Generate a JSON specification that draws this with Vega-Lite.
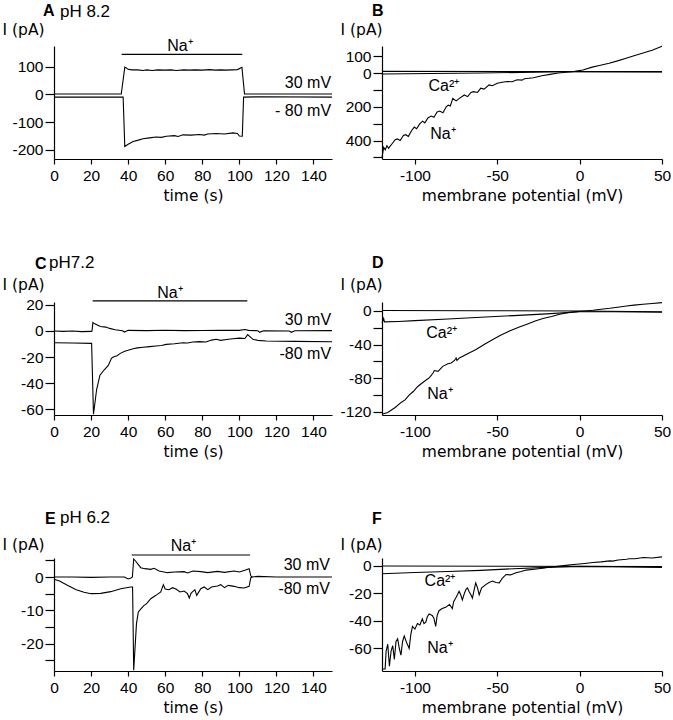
{
  "$schema": "https://vega.github.io/schema/vega-lite/v6.json",
  "background": "white",
  "padding": {"left": 2, "top": 2, "right": 0, "bottom": 0},
  "columns": 2,
  "align": "each",
  "bounds": "flush",
  "spacing": {"row": 143, "column": 50},
  "config": {
    "view": {"stroke": null},
    "axis": {"grid": false, "labelFlush": false, "domainColor": "black", "domainWidth": 1.2, "tickColor": "black", "tickWidth": 1.2, "labelColor": "black", "labelFont": "Liberation Sans", "labelFontSize": 15.5, "titleColor": "black", "titleFont": "DejaVu Sans", "titleFontSize": 15.5, "titleFontWeight": "normal"},
    "axisX": {"tickSize": 5, "labelPadding": 4, "titlePadding": 5, "labelExpr": "'' + datum.value"},
    "axisY": {"tickSize": 9, "labelPadding": 2, "titleAngle": 0, "titleAlign": "left", "titleBaseline": "middle"},
    "text": {"font": "Liberation Sans", "fontSize": 16, "color": "black"},
    "line": {"color": "black", "strokeWidth": 1.1},
    "rule": {"color": "black", "strokeWidth": 1.2}
  },
  "datasets": {
    "A": [
      {"s": "p30", "x": 0, "y": 1}, {"s": "p30", "x": 36.3, "y": 1}, {"s": "p30", "x": 38.2, "y": 98}, {"s": "p30", "x": 39, "y": 95}, {"s": "p30", "x": 40, "y": 90}, {"s": "p30", "x": 42, "y": 88}, {"s": "p30", "x": 45, "y": 88}, {"s": "p30", "x": 48, "y": 86}, {"s": "p30", "x": 50, "y": 88}, {"s": "p30", "x": 53, "y": 86}, {"s": "p30", "x": 56, "y": 88}, {"s": "p30", "x": 60, "y": 87}, {"s": "p30", "x": 63, "y": 88}, {"s": "p30", "x": 66, "y": 86}, {"s": "p30", "x": 70, "y": 88}, {"s": "p30", "x": 73, "y": 87}, {"s": "p30", "x": 76, "y": 88}, {"s": "p30", "x": 80, "y": 87}, {"s": "p30", "x": 84, "y": 89}, {"s": "p30", "x": 87, "y": 87}, {"s": "p30", "x": 90, "y": 88}, {"s": "p30", "x": 93, "y": 87}, {"s": "p30", "x": 96, "y": 88}, {"s": "p30", "x": 99, "y": 89}, {"s": "p30", "x": 101.4, "y": 97}, {"s": "p30", "x": 102.8, "y": 1}, {"s": "p30", "x": 110, "y": 1}, {"s": "p30", "x": 150, "y": 1},
      {"s": "m80", "x": 0, "y": -10}, {"s": "m80", "x": 20, "y": -10}, {"s": "m80", "x": 37.3, "y": -10}, {"s": "m80", "x": 38.2, "y": -188}, {"s": "m80", "x": 40, "y": -180}, {"s": "m80", "x": 42.7, "y": -170}, {"s": "m80", "x": 45, "y": -166}, {"s": "m80", "x": 48, "y": -160}, {"s": "m80", "x": 51.6, "y": -157}, {"s": "m80", "x": 55, "y": -154}, {"s": "m80", "x": 58, "y": -155}, {"s": "m80", "x": 60.6, "y": -151}, {"s": "m80", "x": 65, "y": -149}, {"s": "m80", "x": 67, "y": -152}, {"s": "m80", "x": 69.6, "y": -146}, {"s": "m80", "x": 74, "y": -147}, {"s": "m80", "x": 78.5, "y": -145}, {"s": "m80", "x": 81, "y": -147}, {"s": "m80", "x": 83, "y": -143}, {"s": "m80", "x": 87.5, "y": -141}, {"s": "m80", "x": 92, "y": -143}, {"s": "m80", "x": 96.5, "y": -139}, {"s": "m80", "x": 99, "y": -141}, {"s": "m80", "x": 100, "y": -150}, {"s": "m80", "x": 101.6, "y": -151}, {"s": "m80", "x": 102.3, "y": -10}, {"s": "m80", "x": 110, "y": -9}, {"s": "m80", "x": 150, "y": -10}
    ],
    "B": [
      {"s": "flat", "x": -120, "y": 10}, {"s": "flat", "x": 50, "y": 8},
      {"s": "ca", "x": -120, "y": -6}, {"s": "ca", "x": -60, "y": 0}, {"s": "ca", "x": -10, "y": 8}, {"s": "ca", "x": 50, "y": 6},
      {"s": "na", "x": -120, "y": -500}, {"s": "na", "x": -119, "y": -440}, {"s": "na", "x": -118, "y": -455}, {"s": "na", "x": -117, "y": -430}, {"s": "na", "x": -116, "y": -445}, {"s": "na", "x": -114, "y": -420}, {"s": "na", "x": -112, "y": -395}, {"s": "na", "x": -110.7, "y": -390}, {"s": "na", "x": -109, "y": -400}, {"s": "na", "x": -107, "y": -370}, {"s": "na", "x": -105.6, "y": -365}, {"s": "na", "x": -104, "y": -375}, {"s": "na", "x": -102, "y": -340}, {"s": "na", "x": -100.4, "y": -320}, {"s": "na", "x": -99, "y": -330}, {"s": "na", "x": -97, "y": -300}, {"s": "na", "x": -95.3, "y": -285}, {"s": "na", "x": -94, "y": -295}, {"s": "na", "x": -92, "y": -265}, {"s": "na", "x": -90, "y": -255}, {"s": "na", "x": -88.5, "y": -262}, {"s": "na", "x": -86.5, "y": -230}, {"s": "na", "x": -85, "y": -225}, {"s": "na", "x": -83, "y": -235}, {"s": "na", "x": -81, "y": -200}, {"s": "na", "x": -79.8, "y": -190}, {"s": "na", "x": -78.5, "y": -195}, {"s": "na", "x": -77, "y": -150}, {"s": "na", "x": -75, "y": -165}, {"s": "na", "x": -73, "y": -150}, {"s": "na", "x": -70, "y": -130}, {"s": "na", "x": -68, "y": -140}, {"s": "na", "x": -66, "y": -115}, {"s": "na", "x": -64.4, "y": -110}, {"s": "na", "x": -62, "y": -115}, {"s": "na", "x": -60, "y": -90}, {"s": "na", "x": -58, "y": -95}, {"s": "na", "x": -55, "y": -70}, {"s": "na", "x": -53, "y": -75}, {"s": "na", "x": -50, "y": -60}, {"s": "na", "x": -47, "y": -55}, {"s": "na", "x": -44, "y": -50}, {"s": "na", "x": -41, "y": -52}, {"s": "na", "x": -38, "y": -40}, {"s": "na", "x": -35, "y": -42}, {"s": "na", "x": -33.5, "y": -34}, {"s": "na", "x": -28, "y": -28}, {"s": "na", "x": -23, "y": -16}, {"s": "na", "x": -18, "y": -8}, {"s": "na", "x": -13, "y": 0}, {"s": "na", "x": -8, "y": 5}, {"s": "na", "x": -3, "y": 10}, {"s": "na", "x": 2, "y": 18}, {"s": "na", "x": 7.6, "y": 35}, {"s": "na", "x": 12, "y": 45}, {"s": "na", "x": 17.9, "y": 58}, {"s": "na", "x": 23, "y": 72}, {"s": "na", "x": 28.2, "y": 88}, {"s": "na", "x": 33, "y": 102}, {"s": "na", "x": 38.5, "y": 118}, {"s": "na", "x": 44, "y": 135}, {"s": "na", "x": 50, "y": 158}
    ],
    "C": [
      {"s": "p30", "x": 0, "y": 0}, {"s": "p30", "x": 5, "y": -0.3}, {"s": "p30", "x": 10, "y": 0}, {"s": "p30", "x": 15, "y": -0.5}, {"s": "p30", "x": 20, "y": -0.3}, {"s": "p30", "x": 20.5, "y": 0}, {"s": "p30", "x": 21, "y": 6.5}, {"s": "p30", "x": 22, "y": 5.5}, {"s": "p30", "x": 25, "y": 3.5}, {"s": "p30", "x": 28, "y": 3}, {"s": "p30", "x": 30, "y": 2}, {"s": "p30", "x": 33, "y": 1}, {"s": "p30", "x": 37, "y": 0.2}, {"s": "p30", "x": 38, "y": -0.8}, {"s": "p30", "x": 40, "y": 0.5}, {"s": "p30", "x": 50, "y": 0.3}, {"s": "p30", "x": 60, "y": 0.6}, {"s": "p30", "x": 70, "y": 0.3}, {"s": "p30", "x": 80, "y": 0.4}, {"s": "p30", "x": 90, "y": 0.5}, {"s": "p30", "x": 100, "y": 0.5}, {"s": "p30", "x": 103, "y": 1.2}, {"s": "p30", "x": 105, "y": 0.5}, {"s": "p30", "x": 110, "y": 0.2}, {"s": "p30", "x": 111, "y": -1}, {"s": "p30", "x": 113, "y": 0.2}, {"s": "p30", "x": 127, "y": 0}, {"s": "p30", "x": 128, "y": -1}, {"s": "p30", "x": 130, "y": 0.2}, {"s": "p30", "x": 150, "y": 0.3},
      {"s": "m80", "x": 0, "y": -9}, {"s": "m80", "x": 10, "y": -9.2}, {"s": "m80", "x": 20.3, "y": -9.5}, {"s": "m80", "x": 21.3, "y": -64}, {"s": "m80", "x": 23, "y": -45}, {"s": "m80", "x": 24.8, "y": -34}, {"s": "m80", "x": 27, "y": -30}, {"s": "m80", "x": 29.3, "y": -26.5}, {"s": "m80", "x": 31, "y": -21}, {"s": "m80", "x": 32, "y": -20}, {"s": "m80", "x": 34, "y": -19}, {"s": "m80", "x": 36, "y": -17}, {"s": "m80", "x": 38.2, "y": -15.5}, {"s": "m80", "x": 40, "y": -14.8}, {"s": "m80", "x": 42.7, "y": -13.6}, {"s": "m80", "x": 45, "y": -13}, {"s": "m80", "x": 48, "y": -12.5}, {"s": "m80", "x": 51.7, "y": -12}, {"s": "m80", "x": 55, "y": -11.5}, {"s": "m80", "x": 58, "y": -11.2}, {"s": "m80", "x": 60.6, "y": -10.3}, {"s": "m80", "x": 65, "y": -9.8}, {"s": "m80", "x": 69.6, "y": -9}, {"s": "m80", "x": 72, "y": -9.2}, {"s": "m80", "x": 75, "y": -8.5}, {"s": "m80", "x": 78.5, "y": -8.2}, {"s": "m80", "x": 82, "y": -8.5}, {"s": "m80", "x": 85, "y": -7}, {"s": "m80", "x": 87.5, "y": -6.4}, {"s": "m80", "x": 90, "y": -7.2}, {"s": "m80", "x": 93, "y": -6.5}, {"s": "m80", "x": 96.5, "y": -6}, {"s": "m80", "x": 100, "y": -5.5}, {"s": "m80", "x": 103, "y": -5.8}, {"s": "m80", "x": 104.5, "y": -2.8}, {"s": "m80", "x": 107.3, "y": -6.4}, {"s": "m80", "x": 110, "y": -7.2}, {"s": "m80", "x": 114.5, "y": -7.7}, {"s": "m80", "x": 130, "y": -8}, {"s": "m80", "x": 150, "y": -8.3}
    ],
    "D": [
      {"s": "flat", "x": -120, "y": 0.5}, {"s": "flat", "x": -60, "y": 0.3}, {"s": "flat", "x": 0, "y": 0}, {"s": "flat", "x": 50, "y": -1},
      {"s": "ca", "x": -120, "y": -14}, {"s": "ca", "x": -119.5, "y": -12}, {"s": "ca", "x": -119, "y": -9}, {"s": "ca", "x": -118.5, "y": -13}, {"s": "ca", "x": -110, "y": -12.5}, {"s": "ca", "x": -100, "y": -11.5}, {"s": "ca", "x": -80, "y": -9.5}, {"s": "ca", "x": -60, "y": -7.5}, {"s": "ca", "x": -40, "y": -5.5}, {"s": "ca", "x": -20, "y": -3.5}, {"s": "ca", "x": 0, "y": -1}, {"s": "ca", "x": 20, "y": -1}, {"s": "ca", "x": 50, "y": -1.5},
      {"s": "na", "x": -120, "y": -123}, {"s": "na", "x": -116.5, "y": -121}, {"s": "na", "x": -112, "y": -115}, {"s": "na", "x": -108.4, "y": -109}, {"s": "na", "x": -106, "y": -106}, {"s": "na", "x": -103.4, "y": -100}, {"s": "na", "x": -101, "y": -96}, {"s": "na", "x": -98.3, "y": -90}, {"s": "na", "x": -95, "y": -85}, {"s": "na", "x": -93, "y": -82}, {"s": "na", "x": -91.2, "y": -79.5}, {"s": "na", "x": -89, "y": -74}, {"s": "na", "x": -88.2, "y": -71}, {"s": "na", "x": -86, "y": -72}, {"s": "na", "x": -83.1, "y": -66}, {"s": "na", "x": -80, "y": -63}, {"s": "na", "x": -78, "y": -62}, {"s": "na", "x": -76, "y": -59}, {"s": "na", "x": -75, "y": -56}, {"s": "na", "x": -74.5, "y": -59}, {"s": "na", "x": -73, "y": -56}, {"s": "na", "x": -68, "y": -51}, {"s": "na", "x": -62.9, "y": -46}, {"s": "na", "x": -58, "y": -40}, {"s": "na", "x": -52.7, "y": -34}, {"s": "na", "x": -48, "y": -29}, {"s": "na", "x": -42.6, "y": -24}, {"s": "na", "x": -37, "y": -19.5}, {"s": "na", "x": -32.4, "y": -16}, {"s": "na", "x": -27, "y": -12}, {"s": "na", "x": -22.3, "y": -9}, {"s": "na", "x": -17, "y": -6.5}, {"s": "na", "x": -12.2, "y": -4}, {"s": "na", "x": -7, "y": -2}, {"s": "na", "x": -2, "y": -0.8}, {"s": "na", "x": 3, "y": 0}, {"s": "na", "x": 8.1, "y": 0.8}, {"s": "na", "x": 13, "y": 2}, {"s": "na", "x": 18.3, "y": 3.2}, {"s": "na", "x": 23, "y": 4.5}, {"s": "na", "x": 28.4, "y": 6}, {"s": "na", "x": 33, "y": 7}, {"s": "na", "x": 38.5, "y": 8}, {"s": "na", "x": 44, "y": 9}, {"s": "na", "x": 50, "y": 10}
    ],
    "E": [
      {"s": "p30", "x": 0, "y": 0}, {"s": "p30", "x": 10, "y": 0}, {"s": "p30", "x": 20, "y": -0.1}, {"s": "p30", "x": 30, "y": 0}, {"s": "p30", "x": 38, "y": 0}, {"s": "p30", "x": 40, "y": -0.6}, {"s": "p30", "x": 41.5, "y": -0.3}, {"s": "p30", "x": 42.3, "y": 0}, {"s": "p30", "x": 43, "y": 5.4}, {"s": "p30", "x": 44, "y": 4.8}, {"s": "p30", "x": 46.8, "y": 2.8}, {"s": "p30", "x": 49, "y": 2.5}, {"s": "p30", "x": 52.2, "y": 2.3}, {"s": "p30", "x": 54, "y": 2.6}, {"s": "p30", "x": 56.7, "y": 1.8}, {"s": "p30", "x": 61.2, "y": 1.3}, {"s": "p30", "x": 65, "y": 1.5}, {"s": "p30", "x": 70.2, "y": 1.6}, {"s": "p30", "x": 72, "y": 1.2}, {"s": "p30", "x": 75, "y": 1.8}, {"s": "p30", "x": 79.2, "y": 1.6}, {"s": "p30", "x": 83, "y": 1.3}, {"s": "p30", "x": 88.2, "y": 1.7}, {"s": "p30", "x": 92, "y": 1.4}, {"s": "p30", "x": 97.2, "y": 1.8}, {"s": "p30", "x": 100, "y": 1.5}, {"s": "p30", "x": 103, "y": 2}, {"s": "p30", "x": 105.3, "y": 2.5}, {"s": "p30", "x": 106.2, "y": 0.3}, {"s": "p30", "x": 107, "y": 0}, {"s": "p30", "x": 110, "y": 0.2}, {"s": "p30", "x": 120, "y": 0}, {"s": "p30", "x": 150, "y": 0},
      {"s": "m80", "x": 0, "y": -0.7}, {"s": "m80", "x": 3, "y": -1.2}, {"s": "m80", "x": 7.2, "y": -2.5}, {"s": "m80", "x": 12, "y": -3.8}, {"s": "m80", "x": 16.2, "y": -4.6}, {"s": "m80", "x": 20, "y": -5}, {"s": "m80", "x": 25.2, "y": -4.9}, {"s": "m80", "x": 30.6, "y": -4.4}, {"s": "m80", "x": 36, "y": -3.5}, {"s": "m80", "x": 41.4, "y": -3}, {"s": "m80", "x": 42.4, "y": -3}, {"s": "m80", "x": 43, "y": -28}, {"s": "m80", "x": 44.5, "y": -14}, {"s": "m80", "x": 45.5, "y": -10.5}, {"s": "m80", "x": 47, "y": -9.5}, {"s": "m80", "x": 48.6, "y": -8.5}, {"s": "m80", "x": 50, "y": -8}, {"s": "m80", "x": 52.2, "y": -6.5}, {"s": "m80", "x": 55, "y": -5.5}, {"s": "m80", "x": 57.6, "y": -4.5}, {"s": "m80", "x": 59, "y": -2.3}, {"s": "m80", "x": 60, "y": -3.6}, {"s": "m80", "x": 62, "y": -3.8}, {"s": "m80", "x": 64, "y": -3.2}, {"s": "m80", "x": 66, "y": -3.7}, {"s": "m80", "x": 68, "y": -4.5}, {"s": "m80", "x": 70.2, "y": -4.2}, {"s": "m80", "x": 72, "y": -5}, {"s": "m80", "x": 73, "y": -6.3}, {"s": "m80", "x": 74, "y": -4.8}, {"s": "m80", "x": 76, "y": -3.8}, {"s": "m80", "x": 77, "y": -5.5}, {"s": "m80", "x": 79.2, "y": -3.5}, {"s": "m80", "x": 81, "y": -3}, {"s": "m80", "x": 83, "y": -3.8}, {"s": "m80", "x": 85, "y": -3}, {"s": "m80", "x": 88.2, "y": -2.7}, {"s": "m80", "x": 90, "y": -2.3}, {"s": "m80", "x": 92, "y": -3.2}, {"s": "m80", "x": 94, "y": -2.5}, {"s": "m80", "x": 97.2, "y": -2.8}, {"s": "m80", "x": 100, "y": -3.2}, {"s": "m80", "x": 102.6, "y": -3.3}, {"s": "m80", "x": 105.3, "y": -2.8}, {"s": "m80", "x": 106.2, "y": -0.2}, {"s": "m80", "x": 107, "y": 0}
    ],
    "F": [
      {"s": "flat", "x": -120, "y": 0}, {"s": "flat", "x": 50, "y": -0.5},
      {"s": "ca", "x": -120, "y": -5.7}, {"s": "ca", "x": -100, "y": -4.8}, {"s": "ca", "x": -80, "y": -4}, {"s": "ca", "x": -60, "y": -3.2}, {"s": "ca", "x": -40, "y": -2}, {"s": "ca", "x": -20, "y": -1}, {"s": "ca", "x": 0, "y": -0.3}, {"s": "ca", "x": 20, "y": -0.5}, {"s": "ca", "x": 50, "y": -1},
      {"s": "na", "x": -120, "y": -75}, {"s": "na", "x": -118.1, "y": -75}, {"s": "na", "x": -117.5, "y": -62}, {"s": "na", "x": -116.5, "y": -57}, {"s": "na", "x": -115.5, "y": -73}, {"s": "na", "x": -114.5, "y": -62}, {"s": "na", "x": -113.5, "y": -58}, {"s": "na", "x": -112.5, "y": -68}, {"s": "na", "x": -111.5, "y": -55}, {"s": "na", "x": -110.5, "y": -53}, {"s": "na", "x": -109.5, "y": -60}, {"s": "na", "x": -108.5, "y": -65}, {"s": "na", "x": -107.5, "y": -55}, {"s": "na", "x": -106.5, "y": -51}, {"s": "na", "x": -105, "y": -56}, {"s": "na", "x": -103.5, "y": -60}, {"s": "na", "x": -102.5, "y": -50}, {"s": "na", "x": -101.5, "y": -44}, {"s": "na", "x": -100, "y": -46}, {"s": "na", "x": -98.5, "y": -42}, {"s": "na", "x": -97, "y": -43}, {"s": "na", "x": -95.5, "y": -38.5}, {"s": "na", "x": -94.5, "y": -42}, {"s": "na", "x": -93.4, "y": -41}, {"s": "na", "x": -92.5, "y": -37}, {"s": "na", "x": -91.4, "y": -35}, {"s": "na", "x": -89.5, "y": -36}, {"s": "na", "x": -88.5, "y": -38}, {"s": "na", "x": -87.4, "y": -44}, {"s": "na", "x": -86.5, "y": -36}, {"s": "na", "x": -85.4, "y": -32.6}, {"s": "na", "x": -83.5, "y": -31}, {"s": "na", "x": -81.3, "y": -30}, {"s": "na", "x": -79, "y": -28}, {"s": "na", "x": -77.3, "y": -31}, {"s": "na", "x": -76.5, "y": -26}, {"s": "na", "x": -75.3, "y": -23.5}, {"s": "na", "x": -74.2, "y": -21}, {"s": "na", "x": -73.2, "y": -18.5}, {"s": "na", "x": -72.2, "y": -21}, {"s": "na", "x": -71.2, "y": -24.7}, {"s": "na", "x": -70, "y": -20}, {"s": "na", "x": -69, "y": -17}, {"s": "na", "x": -68.1, "y": -16}, {"s": "na", "x": -67, "y": -19}, {"s": "na", "x": -66, "y": -21}, {"s": "na", "x": -65.1, "y": -23.5}, {"s": "na", "x": -64, "y": -17}, {"s": "na", "x": -63.1, "y": -12.3}, {"s": "na", "x": -62, "y": -16}, {"s": "na", "x": -61, "y": -21}, {"s": "na", "x": -59.5, "y": -16}, {"s": "na", "x": -57, "y": -13.6}, {"s": "na", "x": -55, "y": -12}, {"s": "na", "x": -52.9, "y": -11}, {"s": "na", "x": -50.8, "y": -12}, {"s": "na", "x": -48.8, "y": -12.3}, {"s": "na", "x": -47, "y": -9}, {"s": "na", "x": -44.7, "y": -6.2}, {"s": "na", "x": -42, "y": -6.5}, {"s": "na", "x": -38.6, "y": -4.9}, {"s": "na", "x": -35.5, "y": -4}, {"s": "na", "x": -32.5, "y": -3}, {"s": "na", "x": -27.5, "y": -2.4}, {"s": "na", "x": -22.4, "y": -1.7}, {"s": "na", "x": -17.3, "y": -0.8}, {"s": "na", "x": -12.2, "y": 0}, {"s": "na", "x": -7, "y": 0.6}, {"s": "na", "x": -2, "y": 1.2}, {"s": "na", "x": 3, "y": 1.8}, {"s": "na", "x": 8.1, "y": 2.5}, {"s": "na", "x": 13, "y": 3}, {"s": "na", "x": 18.3, "y": 3.7}, {"s": "na", "x": 20, "y": 3.5}, {"s": "na", "x": 23.4, "y": 4.3}, {"s": "na", "x": 28.5, "y": 4.9}, {"s": "na", "x": 30, "y": 5.2}, {"s": "na", "x": 33.6, "y": 5.3}, {"s": "na", "x": 38.7, "y": 6.2}, {"s": "na", "x": 44, "y": 5.8}, {"s": "na", "x": 50, "y": 6.6}
    ]
  },
  "concat": [
    {
      "width": 278, "height": 113,
      "encoding": {
        "x": {"field": "x", "type": "quantitative", "scale": {"domain": [0, 150], "nice": false, "zero": false}, "axis": {"title": "time (s)", "values": [0, 20, 40, 60, 80, 100, 120, 140]}},
        "y": {"field": "y", "type": "quantitative", "scale": {"domain": [-233, 174], "nice": false, "zero": false}, "axis": {"title": "I (pA)", "values": [-200, -100, 0, 100], "labelExpr": "'' + datum.value", "titleX": -52, "titleY": -17}}
      },
      "layer": [
        {"data": {"name": "A"}, "mark": "line", "encoding": {"detail": {"field": "s"}}},
        {"data": {"values": [{"x": 36.5, "x2": 101.6, "y": 144}]}, "mark": "rule", "encoding": {"x2": {"field": "x2"}}},
        {"data": {"values": [{"x": 68, "y": 174, "t": "Na⁺"}]}, "mark": {"type": "text", "align": "center", "baseline": "middle"}, "encoding": {"text": {"field": "t"}}},
        {"data": {"values": [{"x": 149.5, "y": 42, "t": "30  mV"}, {"x": 149.5, "y": -60, "t": "- 80 mV"}]}, "mark": {"type": "text", "align": "right", "baseline": "middle"}, "encoding": {"text": {"field": "t"}}},
        {"data": {"values": [{"x": -5.9, "y": 300, "t": "A"}]}, "mark": {"type": "text", "align": "left", "baseline": "middle", "fontWeight": "bold"}, "encoding": {"text": {"field": "t"}}},
        {"data": {"values": [{"x": 3.2, "y": 298, "t": "pH 8.2"}]}, "mark": {"type": "text", "align": "left", "baseline": "middle", "fontSize": 17}, "encoding": {"text": {"field": "t"}}}
      ]
    },
    {
      "width": 280, "height": 113,
      "encoding": {
        "x": {"field": "x", "type": "quantitative", "scale": {"domain": [-120, 50], "nice": false, "zero": false}, "axis": {"title": "membrane potential (mV)", "values": [-100, -50, 0, 50]}},
        "y": {"field": "y", "type": "quantitative", "scale": {"domain": [-509, 160], "nice": false, "zero": false}, "axis": {"title": "I (pA)", "values": [-500, -400, -300, -200, -100, 0, 100], "labelExpr": "datum.value == 100 ? '100' : datum.value == 0 ? '0' : datum.value == -200 ? '200' : datum.value == -400 ? '400' : ''", "titleX": -42, "titleY": -17}}
      },
      "layer": [
        {"data": {"name": "B"}, "mark": "line", "encoding": {"detail": {"field": "s"}}},
        {"data": {"values": [{"x": -82.4, "y": -77, "t": "Ca²⁺"}, {"x": -83, "y": -363, "t": "Na⁺"}]}, "mark": {"type": "text", "align": "center", "baseline": "middle"}, "encoding": {"text": {"field": "t"}}},
        {"data": {"values": [{"x": -126, "y": 367, "t": "B"}]}, "mark": {"type": "text", "align": "left", "baseline": "middle", "fontWeight": "bold"}, "encoding": {"text": {"field": "t"}}}
      ]
    },
    {
      "width": 278, "height": 113,
      "encoding": {
        "x": {"field": "x", "type": "quantitative", "scale": {"domain": [0, 150], "nice": false, "zero": false}, "axis": {"title": "time (s)", "values": [0, 20, 40, 60, 80, 100, 120, 140]}},
        "y": {"field": "y", "type": "quantitative", "scale": {"domain": [-64.6, 22.3], "nice": false, "zero": false}, "axis": {"title": "I (pA)", "values": [-60, -40, -20, 0, 20], "labelExpr": "'' + datum.value", "titleX": -52, "titleY": -18}}
      },
      "layer": [
        {"data": {"name": "C"}, "mark": "line", "encoding": {"detail": {"field": "s"}}},
        {"data": {"values": [{"x": 20.9, "x2": 104.3, "y": 23.1}]}, "mark": "rule", "encoding": {"x2": {"field": "x2"}}},
        {"data": {"values": [{"x": 62.6, "y": 29.5, "t": "Na⁺"}]}, "mark": {"type": "text", "align": "center", "baseline": "middle"}, "encoding": {"text": {"field": "t"}}},
        {"data": {"values": [{"x": 149.5, "y": 8.2, "t": "30 mV"}, {"x": 149.5, "y": -17.9, "t": "-80 mV"}]}, "mark": {"type": "text", "align": "right", "baseline": "middle"}, "encoding": {"text": {"field": "t"}}},
        {"data": {"values": [{"x": -10.3, "y": 51.5, "t": "C"}]}, "mark": {"type": "text", "align": "left", "baseline": "middle", "fontWeight": "bold"}, "encoding": {"text": {"field": "t"}}},
        {"data": {"values": [{"x": -2.7, "y": 52.3, "t": "pH7.2"}]}, "mark": {"type": "text", "align": "left", "baseline": "middle", "fontSize": 17}, "encoding": {"text": {"field": "t"}}}
      ]
    },
    {
      "width": 280, "height": 113,
      "encoding": {
        "x": {"field": "x", "type": "quantitative", "scale": {"domain": [-120, 50], "nice": false, "zero": false}, "axis": {"title": "membrane potential (mV)", "values": [-100, -50, 0, 50]}},
        "y": {"field": "y", "type": "quantitative", "scale": {"domain": [-124, 10.7], "nice": false, "zero": false}, "axis": {"title": "I (pA)", "values": [-120, -100, -80, -60, -40, -20, 0], "labelExpr": "datum.value % 40 == 0 ? '' + datum.value : ''", "titleX": -42, "titleY": -18}}
      },
      "layer": [
        {"data": {"name": "D"}, "mark": "line", "encoding": {"detail": {"field": "s"}}},
        {"data": {"values": [{"x": -83.8, "y": -25.9, "t": "Ca²⁺"}, {"x": -84.8, "y": -99, "t": "Na⁺"}]}, "mark": {"type": "text", "align": "center", "baseline": "middle"}, "encoding": {"text": {"field": "t"}}},
        {"data": {"values": [{"x": -126, "y": 57.2, "t": "D"}]}, "mark": {"type": "text", "align": "left", "baseline": "middle", "fontWeight": "bold"}, "encoding": {"text": {"field": "t"}}}
      ]
    },
    {
      "width": 278, "height": 113,
      "encoding": {
        "x": {"field": "x", "type": "quantitative", "scale": {"domain": [0, 150], "nice": false, "zero": false}, "axis": {"title": "time (s)", "values": [0, 20, 40, 60, 80, 100, 120, 140]}},
        "y": {"field": "y", "type": "quantitative", "scale": {"domain": [-28.2, 5.7], "nice": false, "zero": false}, "axis": {"title": "I (pA)", "values": [-25, -20, -15, -10, -5, 0, 5], "labelExpr": "datum.value % 10 == 0 ? '' + datum.value : ''", "titleX": -52, "titleY": -14}}
      },
      "layer": [
        {"data": {"name": "E"}, "mark": "line", "encoding": {"detail": {"field": "s"}}},
        {"data": {"values": [{"x": 41.9, "x2": 105.8, "y": 6.6}]}, "mark": "rule", "encoding": {"x2": {"field": "x2"}}},
        {"data": {"values": [{"x": 69.8, "y": 9.3, "t": "Na⁺"}]}, "mark": {"type": "text", "align": "center", "baseline": "middle"}, "encoding": {"text": {"field": "t"}}},
        {"data": {"values": [{"x": 148.9, "y": 3.6, "t": "30 mV"}, {"x": 148.9, "y": -3.5, "t": "-80 mV"}]}, "mark": {"type": "text", "align": "right", "baseline": "middle"}, "encoding": {"text": {"field": "t"}}},
        {"data": {"values": [{"x": -4.9, "y": 17.4, "t": "E"}]}, "mark": {"type": "text", "align": "left", "baseline": "middle", "fontWeight": "bold"}, "encoding": {"text": {"field": "t"}}},
        {"data": {"values": [{"x": 3.2, "y": 17.6, "t": "pH 6.2"}]}, "mark": {"type": "text", "align": "left", "baseline": "middle", "fontSize": 17}, "encoding": {"text": {"field": "t"}}}
      ]
    },
    {
      "width": 280, "height": 113,
      "encoding": {
        "x": {"field": "x", "type": "quantitative", "scale": {"domain": [-120, 50], "nice": false, "zero": false}, "axis": {"title": "membrane potential (mV)", "values": [-100, -50, 0, 50]}},
        "y": {"field": "y", "type": "quantitative", "scale": {"domain": [-76.5, 5.8], "nice": false, "zero": false}, "axis": {"title": "I (pA)", "values": [-60, -40, -20, 0], "labelExpr": "'' + datum.value", "titleX": -42, "titleY": -14}}
      },
      "layer": [
        {"data": {"name": "F"}, "mark": "line", "encoding": {"detail": {"field": "s"}}},
        {"data": {"values": [{"x": -84.8, "y": -10.9, "t": "Ca²⁺"}, {"x": -84.8, "y": -59.6, "t": "Na⁺"}]}, "mark": {"type": "text", "align": "center", "baseline": "middle"}, "encoding": {"text": {"field": "t"}}},
        {"data": {"values": [{"x": -126, "y": 34.3, "t": "F"}]}, "mark": {"type": "text", "align": "left", "baseline": "middle", "fontWeight": "bold"}, "encoding": {"text": {"field": "t"}}}
      ]
    }
  ]
}
